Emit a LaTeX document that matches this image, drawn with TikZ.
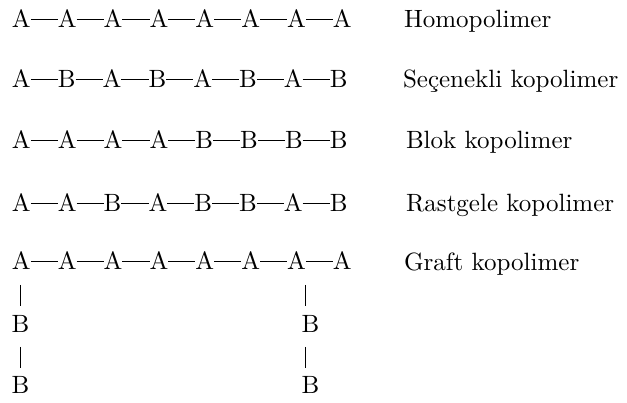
\documentclass[tikz,border=0pt]{standalone}
\usepackage{fontspec}
\newfontfamily\lmtenfont{lmroman10-regular.otf}
\usetikzlibrary{positioning}
\newcommand\polychain[4]{% #1 name prefix, #2 x, #3 baseline y, #4 list
  \foreach \L [count=\i] in {#4} {
    \ifnum\i=1
      \node[atom] (#1-1) at (#2,#3) {\L};
    \else
      \pgfmathtruncatemacro\prv{\i-1}
      \node[atom, right=27.1pt of #1-\prv] (#1-\i) {\L};
      \draw[bond] (#1-\prv) -- (#1-\i);
    \fi
  }%
}
\begin{document}
\begin{tikzpicture}[x=1pt,y=-1pt,
  atom/.style={inner sep=0pt, outer sep=0pt, anchor=base west,
    font=\lmtenfont\fontsize{25}{30}\selectfont},
  lbl/.style={inner sep=0pt, outer sep=0pt, anchor=base west,
    font=\lmtenfont\fontsize{25}{30}\selectfont},
  bond/.style={line width=0.8pt},
  bar/.style={line width=0.8pt}]
\useasboundingbox (0,0) rectangle (627,403);

\polychain{r1}{12}{28}{A,A,A,A,A,A,A,A}
\polychain{r2}{12}{88}{A,B,A,B,A,B,A,B}
\polychain{r3}{12}{149}{A,A,A,A,B,B,B,B}
\polychain{r4}{12}{212}{A,A,B,A,B,B,A,B}
\polychain{r5}{12}{270}{A,A,A,A,A,A,A,A}

\node[lbl] (l1) at (404,28) {Homopolimer};
\node[lbl] (l2) at (403,88) {Seçenekli kopolimer};
\node[lbl] (l3) at (406,149) {Blok kopolimer};
\node[lbl] (l4) at (406,212) {Rastgele kopolimer};
\node[lbl] (l5) at (404,271) {Graft kopolimer};

\node[atom] (g1) at (11.7,333) {B};
\node[atom] (g2) at (11.7,394) {B};
\node[atom] (g3) at (301.7,333) {B};
\node[atom] (g4) at (301.7,394) {B};

\draw[bar, shorten <=15pt, shorten >=10pt] (g1.north |- r5-1.south) -- (g1.north);
\draw[bar, shorten <=14pt, shorten >=9pt] (g1.south) -- (g2.north);
\draw[bar, shorten <=15pt, shorten >=10pt] ([xshift=-5.3pt]g3.north |- r5-7.south) -- ([xshift=-5.3pt]g3.north);
\draw[bar, shorten <=14pt, shorten >=9pt] ([xshift=-5.3pt]g3.south) -- ([xshift=-5.3pt]g4.north);
\end{tikzpicture}
\end{document}
